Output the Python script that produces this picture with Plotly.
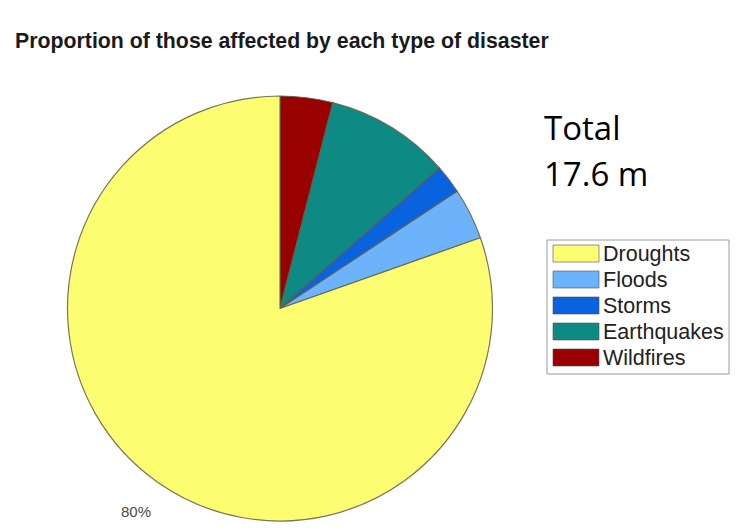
import math
import plotly.graph_objects as go

# Share of people affected, by disaster type (percent)
categories = ["Droughts", "Floods", "Storms", "Earthquakes", "Wildfires"]
shares = [80.4, 3.9, 2.2, 9.5, 4.0]
colors = ["#fdfd72", "#6cb3fb", "#0a63de", "#0e8a84", "#990000"]
total_label = ["Total", "17.6 m"]
title_text = "Proportion of those affected by each type of disaster"

W, H = 738, 530

def px_x(x):
    return x / W

def px_y(y):
    return 1 - y / H

# Pie placement (pixels)
cx, cy, r = 280, 308.5, 212.5

# Slices run clockwise from 12 o'clock, smallest categories first
pie_labels = categories[::-1]
pie_values = shares[::-1]
pie_colors = colors[::-1]

fig = go.Figure(
    go.Pie(
        labels=pie_labels,
        values=pie_values,
        sort=False,
        direction="clockwise",
        rotation=0,
        marker=dict(colors=pie_colors, line=dict(color="rgba(95,95,70,0.85)", width=1.2)),
        textinfo="none",
        hoverinfo="label+percent",
        showlegend=False,
        domain=dict(x=[px_x(cx - r), px_x(cx + r)], y=[px_y(cy + r), px_y(cy - r)]),
    )
)

annotations = []
shapes = []

# Percentage label for the largest slice, set just outside its mid-angle
total = sum(shares)
big = shares.index(max(shares))
before = sum(pie_values[:pie_values.index(shares[big])])
mid = (before + shares[big] / 2) / total * 2 * math.pi  # clockwise from 12 o'clock
lr = r * 1.17
lx = cx + lr * math.sin(mid)
ly = cy - lr * math.cos(mid)
annotations.append(dict(
    x=px_x(lx), y=px_y(ly), xref="paper", yref="paper",
    text=f"{shares[big] / total * 100:.0f}%", showarrow=False,
    font=dict(family="Liberation Sans, Arial, sans-serif", size=15, color="#4a4a4a"),
    xanchor="center", yanchor="middle",
))

# Chart title
annotations.append(dict(
    x=px_x(13), y=px_y(41), xref="paper", yref="paper",
    text=f"<b>{title_text}</b>", showarrow=False,
    font=dict(family="Liberation Sans, Arial, sans-serif", size=21.3, color="#1a1a1a"),
    xanchor="left", yanchor="middle",
))

# Total count note
for i, line in enumerate(total_label):
    annotations.append(dict(
        x=px_x(542), y=px_y(127 + 47 * i), xref="paper", yref="paper",
        text=line, showarrow=False,
        font=dict(family="Open Sans, sans-serif", size=33, color="#000000"),
        xanchor="left", yanchor="middle",
    ))

# Legend box with wide swatches
shapes.append(dict(
    type="rect", xref="paper", yref="paper",
    x0=px_x(547), x1=px_x(729), y0=px_y(374), y1=px_y(240),
    line=dict(color="#9a9a9a", width=1), fillcolor="white", layer="below",
))
for i, (name, col) in enumerate(zip(categories, colors)):
    top = 245 + 26 * i
    shapes.append(dict(
        type="rect", xref="paper", yref="paper",
        x0=px_x(553), x1=px_x(599), y0=px_y(top + 17), y1=px_y(top),
        line=dict(color="rgba(80,80,80,0.6)", width=1), fillcolor=col,
    ))
    annotations.append(dict(
        x=px_x(601), y=px_y(top + 9), xref="paper", yref="paper",
        text=name, showarrow=False,
        font=dict(family="Liberation Sans, Arial, sans-serif", size=21.5, color="#222222"),
        xanchor="left", yanchor="middle",
    ))

fig.update_layout(
    width=W, height=H,
    margin=dict(l=0, r=0, t=0, b=0),
    paper_bgcolor="white",
    plot_bgcolor="white",
    annotations=annotations,
    shapes=shapes,
)

fig.write_html("out.html")
